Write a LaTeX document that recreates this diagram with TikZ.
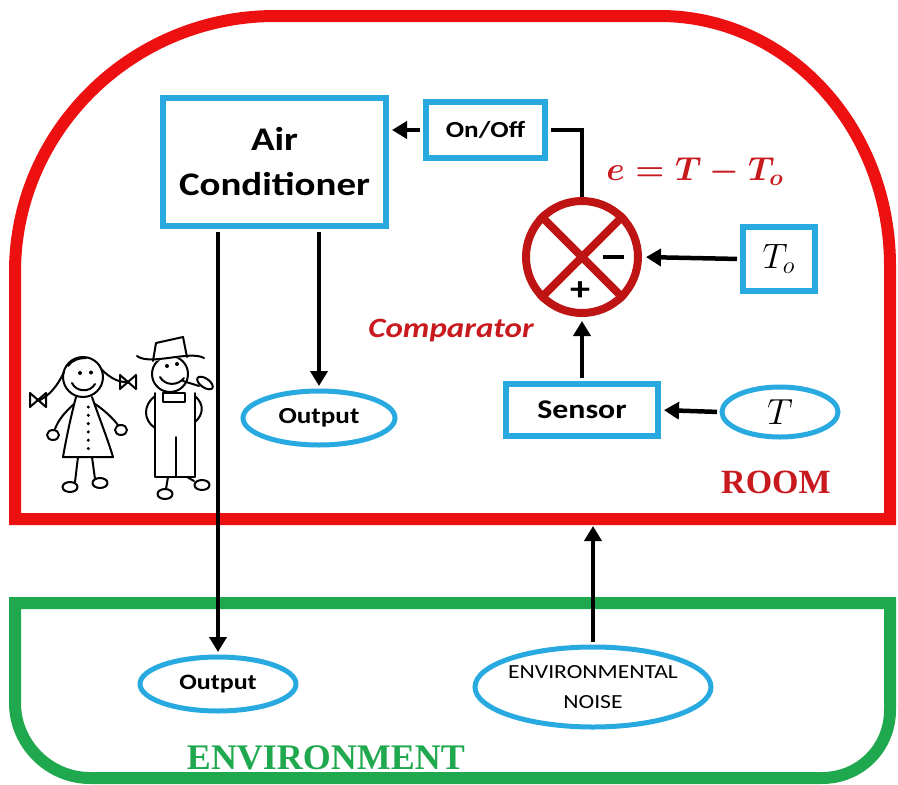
\documentclass[tikz,border=0pt]{standalone}
\usepackage{fontspec}
\usepackage{graphicx}
\usetikzlibrary{arrows.meta,shapes.geometric}
\newfontfamily\calfont{Carlito}[FakeStretch=1.18]
\newfontfamily\serfont{Liberation Serif}
\definecolor{roomred}{RGB}{236,16,16}
\definecolor{envgreen}{RGB}{32,168,78}
\definecolor{boxblue}{RGB}{40,170,225}
\definecolor{cmpred}{RGB}{190,20,20}
\definecolor{txtred}{RGB}{200,25,30}
\newcommand{\bigmath}[2]{\fontsize{20}{24}\selectfont\scalebox{#1}{#2}}
\begin{document}
\begin{tikzpicture}[x=1pt,y=-1pt,
  blk/.style={draw=boxblue,line width=6pt,rectangle,inner sep=0pt,align=center,font=\calfont\bfseries},
  ell/.style={draw=boxblue,line width=5pt,ellipse,inner sep=-20pt,align=center},
  conn/.style={line width=4.5pt,-{Triangle[length=15pt,width=17pt]}},
  wire/.style={line width=4.5pt},
  fig/.style={line width=2pt,line cap=round,line join=round},
  ]
\useasboundingbox (0,0) rectangle (898,785);
% room and environment
\draw[roomred,line width=12pt,line join=miter] (15,519) -- (15,272) .. controls (15,131) and (132,16) .. (275,16) -- (660,16) .. controls (787,16) and (890,127) .. (890,266) -- (890,519) -- cycle;
\draw[envgreen,line width=12pt,line join=miter] (15,603) -- (890,603) -- (890,710) .. controls (890,748) and (860,778) .. (822,778) -- (90,778) .. controls (49,778) and (15,744) .. (15,703) -- cycle;
% nodes
\node[blk,minimum width=223pt,minimum height=128pt,font=\calfont\bfseries\fontsize{33}{45}\selectfont] (ac) at (274.5,162) {Air\\Conditioner};
\node[blk,minimum width=119pt,minimum height=56pt,font=\calfont\bfseries\fontsize{23}{28}\selectfont] (onoff) at (485.5,130) {On/Off};
\node[circle,draw=cmpred,line width=8pt,minimum size=112pt,inner sep=0pt] (cmp) at (582,257) {};
\draw[cmpred,line width=8pt] (cmp.45) -- (cmp.225) (cmp.135) -- (cmp.315);
\node[inner sep=0pt] (minus) at (613,257) {\rule{21pt}{4.5pt}};
\node[inner sep=0pt,font=\calfont\bfseries\fontsize{34}{34}\selectfont] (plus) at (580,291) {+};
\node[blk,minimum width=72pt,minimum height=64pt] (to) at (779,259) {\bigmath{1.7}{$T_o$}};
\node[text=txtred,inner sep=0pt] (eq) at (695,172) {\bigmath{1.6}{\boldmath$e=T-T_o$}};
\node[text=txtred,inner sep=0pt,font=\calfont\bfseries\itshape\fontsize{28}{34}\selectfont] (cmplabel) at (451,331) {Comparator};
\node[blk,minimum width=152pt,minimum height=52pt,font=\calfont\bfseries\fontsize{27}{32}\selectfont] (sensor) at (582,410) {Sensor};
\node[ell,minimum width=116pt,minimum height=50pt] (tnode) at (780,412) {\bigmath{1.75}{$T$}};
\node[ell,minimum width=152pt,minimum height=54pt,font=\calfont\bfseries\fontsize{23}{28}\selectfont] (out1) at (319,418) {Output};
\node[ell,minimum width=156pt,minimum height=54pt,font=\calfont\bfseries\fontsize{22}{28}\selectfont] (out2) at (218,684) {Output};
\node[ell,minimum width=236pt,minimum height=80pt,font=\calfont\fontsize{20}{30}\selectfont] (noise) at (593,687) {ENVIRONMENTAL\\NOISE};
\node[text=txtred,inner sep=0pt,font=\serfont\bfseries\fontsize{34}{40}\selectfont] (room) at (776,482) {ROOM};
\node[text=envgreen,inner sep=0pt,font=\serfont\bfseries\fontsize{36}{40}\selectfont] (env) at (326,758) {ENVIRONMENT};
\coordinate (roombot) at (593,526);
% connectors
\draw[conn,shorten >=3pt,shorten <=3pt] (onoff.west) -- (onoff.west -| ac.east);
\draw[wire,shorten <=3pt] (onoff.east) -| (cmp.north);
\draw[conn,shorten >=4pt,shorten <=3pt] (to.west) -- (cmp.east);
\draw[conn,shorten >=4pt,shorten <=3pt] (sensor.north) -- (cmp.south);
\draw[conn,shorten >=3pt,shorten <=2.5pt] (tnode.west) -- (sensor.east);
\draw[conn,shorten >=2.5pt,shorten <=3pt] (ac.south -| out1.north) -- (out1.north);
\draw[conn,line width=4pt,shorten >=2.5pt,shorten <=3pt] (ac.south -| out2.north) -- (out2.north);
\draw[conn,shorten <=2.5pt] (noise.north) -- (roombot);
% girl
\begin{scope}[fig]
\draw (83,377) circle (20);
\fill (80,373) circle (2) (91,372.5) circle (2);
\draw (72,383) .. controls (76,392) and (90,393) .. (95,384);
\draw (68,366) .. controls (72,360) and (79,358) .. (86,358);
\draw (64,372) .. controls (58,385) and (50,395) .. (40,400);
\draw (30,393) -- (46,407) -- (46,393) -- (30,407) -- cycle;
\draw (101,369) .. controls (110,378) and (118,382) .. (126,382);
\draw (120,375) -- (136,389) -- (136,375) -- (120,389) -- cycle;
\draw (76,397) .. controls (70,420) and (66,440) .. (63,457) -- (113,457) .. controls (108,440) and (100,420) .. (92,397);
\draw (74,404) .. controls (63,414) and (58,421) .. (55,429);
\draw (53,435) ellipse [x radius=6,y radius=5];
\draw (95,404) .. controls (107,412) and (114,420) .. (118,425);
\draw (121,430) ellipse [x radius=6,y radius=5];
\foreach \k in {0,...,5} \fill (88.3,407+8.3*\k) circle (1.7);
\draw (78,457) -- (75,482) (92,457) -- (95,479);
\draw (70,487) ellipse [x radius=7.5,y radius=5];
\draw (100,483) ellipse [x radius=7.5,y radius=5];
% farmer
\draw (170,374) circle (18);
\draw[fill=white] (153,361) -- (156,343) -- (183,337) -- (187,357);
\draw (137,356) .. controls (150,366) and (190,350) .. (204,358);
\fill (167,366) circle (2) (177,364) circle (2);
\draw (160,377) .. controls (165,386) and (178,386) .. (184,378);
\draw (183,381) -- (199,386);
\draw[rotate around={-35:(205,383)}] (205,383) ellipse [x radius=9,y radius=4.5];
\draw (155,393) -- (155,477) -- (195,477) -- (195,393);
\draw (176,437) -- (176,477);
\draw (163,393) rectangle (185,402);
\draw (155,396) .. controls (143,405) and (143,420) .. (155,428);
\draw (195,396) .. controls (205,405) and (203,415) .. (195,422);
\draw (168,477) -- (166,489) (187,477) -- (194,481);
\draw (165,494) ellipse [x radius=7.5,y radius=5];
\draw (202,485) ellipse [x radius=7.5,y radius=5];
\end{scope}
\end{tikzpicture}
\end{document}
